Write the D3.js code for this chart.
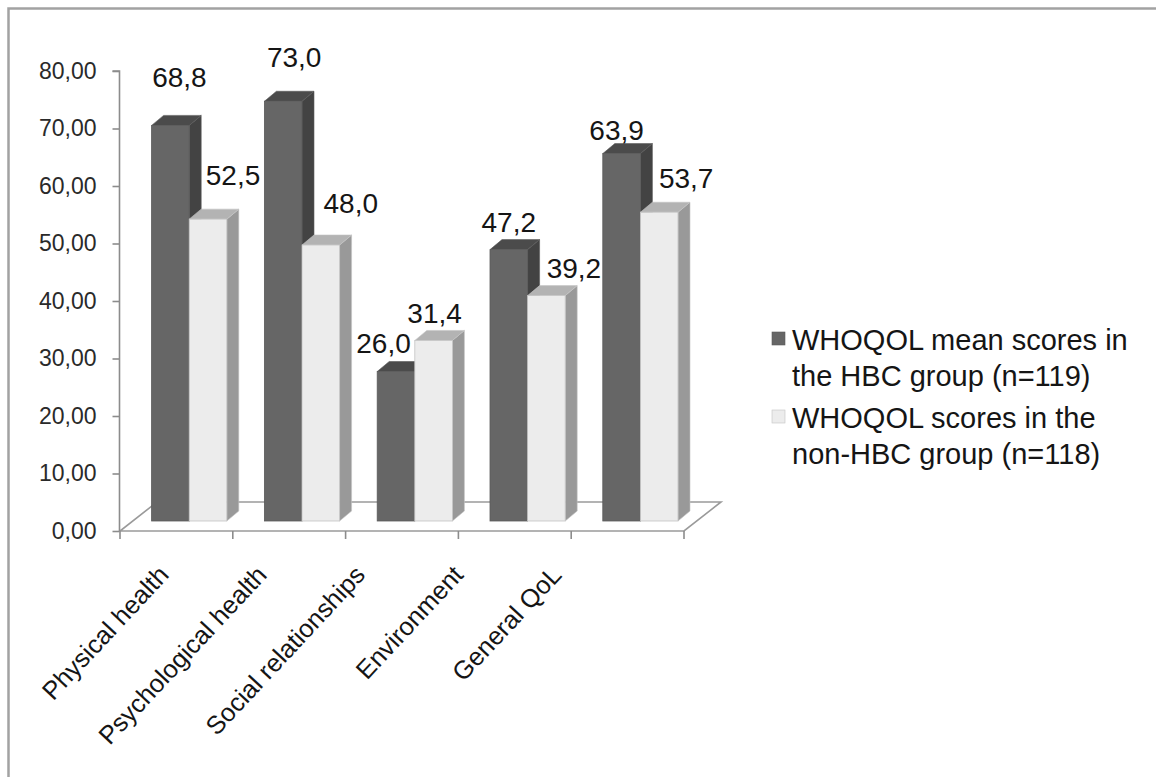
<!DOCTYPE html>
<html>
<head>
<meta charset="utf-8">
<script src="https://cdn.jsdelivr.net/npm/d3@7"></script>
<style>
  html, body { margin: 0; padding: 0; background: #fff; }
  svg { display: block; font-family: "Liberation Sans", Arial, sans-serif; }
</style>
</head>
<body>
<svg id="chart" width="1156" height="777"></svg>
<script>
// WHOQOL domain scores, two groups
const categories = ["Physical health", "Psychological health", "Social relationships", "Environment", "General QoL"];
const seriesNames = ["WHOQOL mean scores in the HBC group (n=119)", "WHOQOL scores in the non-HBC group (n=118)"];
const legendLines = [["WHOQOL mean scores in", "the HBC group (n=119)"], ["WHOQOL scores in the", "non-HBC group (n=118)"]];
const hbcScores = [68.8, 73.0, 26.0, 47.2, 63.9];
const nonHbcScores = [52.5, 48.0, 31.4, 39.2, 53.7];
const yTicks = [0, 10, 20, 30, 40, 50, 60, 70, 80];

// hand-placed data label offsets [dx from bar centre, gap above bar front top]
const labelNudge = [
  [[9, 38], [11, 34], [-12.5, 18.5], [0, 17.6], [-5, 14]],
  [[25, 34], [30, 32], [1, 17], [27.5, 17.6], [27, 24]]
];

const svg = d3.select("#chart");
const series = [hbcScores, nonHbcScores];

const styles = [
  { front: "#666666", top: "#4b4b4b", side: "#434343", edge: "#5a5a5a" },
  { front: "#ececec", top: "#b3b3b3", side: "#999999", edge: "#c4c4c4" }
];

// frame
svg.append("rect")
  .attr("x", 8.5).attr("y", 8.5)
  .attr("width", 1200).attr("height", 900)
  .attr("fill", "none").attr("stroke", "#a2a2a2").attr("stroke-width", 2.5);

// plot geometry
const x0 = 120, x1 = 684;
const yBase = 531, yTop = 71;
const depth = [37, -29];          // floor depth vector
const barFront = [12.8, -10];     // bar front plane offset
const barDepth = [12, -10];       // bar thickness in depth

const x = d3.scaleBand().domain(categories).range([x0, x1]).paddingInner(0).paddingOuter(0);
const y = d3.scaleLinear().domain([0, 80]).range([yBase, yTop]);
const xLabel = d3.scaleBand().domain(categories).range([121, 612]);

// floor
const floorPts = [[x0, yBase], [x1, yBase], [x1 + depth[0], yBase + depth[1]], [x0 + depth[0], yBase + depth[1]]];
svg.append("polygon")
  .attr("points", floorPts.map(p => p.join(",")).join(" "))
  .attr("fill", "#fff").attr("stroke", "#9a9a9a").attr("stroke-width", 1.6);

// value axis
const yAxis = d3.axisLeft(y).tickValues(yTicks).tickSize(7).tickPadding(16)
  .tickFormat(d => d3.format(".2f")(d).replace(".", ","));
const gy = svg.append("g").attr("transform", `translate(${x0 - 0.5},0)`).call(yAxis);
gy.select(".domain").attr("stroke", "#8c8c8c").attr("stroke-width", 1.6).attr("d", `M-7,${y(80)}H0V${yBase}`);
gy.selectAll(".tick line").attr("stroke", "#8c8c8c").attr("stroke-width", 1.6);
gy.selectAll(".tick text").attr("font-size", 23).attr("fill", "#2a2a2a")
  .attr("font-family", "'Liberation Sans', Arial, sans-serif");

// category axis ticks
const catTicks = categories.map(c => x(c)).concat([x1]);
svg.append("g").selectAll("line").data(catTicks).join("line")
  .attr("x1", d => d).attr("x2", d => d)
  .attr("y1", yBase).attr("y2", yBase + 8)
  .attr("stroke", "#8c8c8c").attr("stroke-width", 1.6);

// bars
const barW = x.bandwidth() / 3;
const bars = svg.append("g");
categories.forEach((cat, i) => {
  const cx = x(cat) + x.bandwidth() / 2 + barFront[0];
  series.forEach((vals, s) => {
    const v = vals[i];
    const st = styles[s];
    const left = cx - barW + s * barW;
    const right = left + barW;
    const top = y(v) + barFront[1];
    const bottom = yBase + barFront[1];
    const g = bars.append("g");
    // side face
    g.append("polygon")
      .attr("points", [[right, top], [right + barDepth[0], top + barDepth[1]], [right + barDepth[0], bottom + barDepth[1]], [right, bottom]].map(p => p.join(",")).join(" "))
      .attr("fill", st.side).attr("stroke", st.edge).attr("stroke-width", 0.6);
    // top face
    g.append("polygon")
      .attr("points", [[left, top], [left + barDepth[0], top + barDepth[1]], [right + barDepth[0], top + barDepth[1]], [right, top]].map(p => p.join(",")).join(" "))
      .attr("fill", st.top).attr("stroke", st.edge).attr("stroke-width", 0.6);
    // front face
    g.append("rect")
      .attr("x", left).attr("y", top)
      .attr("width", barW).attr("height", bottom - top)
      .attr("fill", st.front).attr("stroke", st.edge).attr("stroke-width", 0.8);
  });
});

// data labels
const labels = svg.append("g");
categories.forEach((cat, i) => {
  const cx = x(cat) + x.bandwidth() / 2 + barFront[0];
  series.forEach((vals, s) => {
    const v = vals[i];
    const mid = cx - barW / 2 + s * barW;
    const [dx, gap] = labelNudge[s][i];
    labels.append("text")
      .attr("x", mid + dx)
      .attr("y", y(v) + barFront[1] - gap)
      .attr("text-anchor", "middle")
      .attr("font-size", 28).attr("fill", "#151515")
      .text(d3.format(".1f")(v).replace(".", ","));
  });
});

// category labels
svg.append("g").selectAll("text").data(categories).join("text")
  .attr("transform", d => `translate(${xLabel(d) + xLabel.bandwidth() / 2},576) rotate(-47)`)
  .attr("text-anchor", "end")
  .attr("font-size", 25.5).attr("fill", "#151515")
  .text(d => d);

// legend
const legend = svg.append("g").attr("transform", "translate(772,332)");
legendLines.forEach((lines, s) => {
  const g = legend.append("g").attr("transform", `translate(0,${s * 78})`);
  g.append("rect").attr("width", 13).attr("height", 13)
    .attr("fill", styles[s].front).attr("stroke", styles[s].edge).attr("stroke-width", 0.6);
  lines.forEach((t, k) => {
    g.append("text").attr("x", 20).attr("y", 18 + k * 36)
      .attr("font-size", 29).attr("fill", "#151515").text(t);
  });
});
</script>
</body>
</html>
